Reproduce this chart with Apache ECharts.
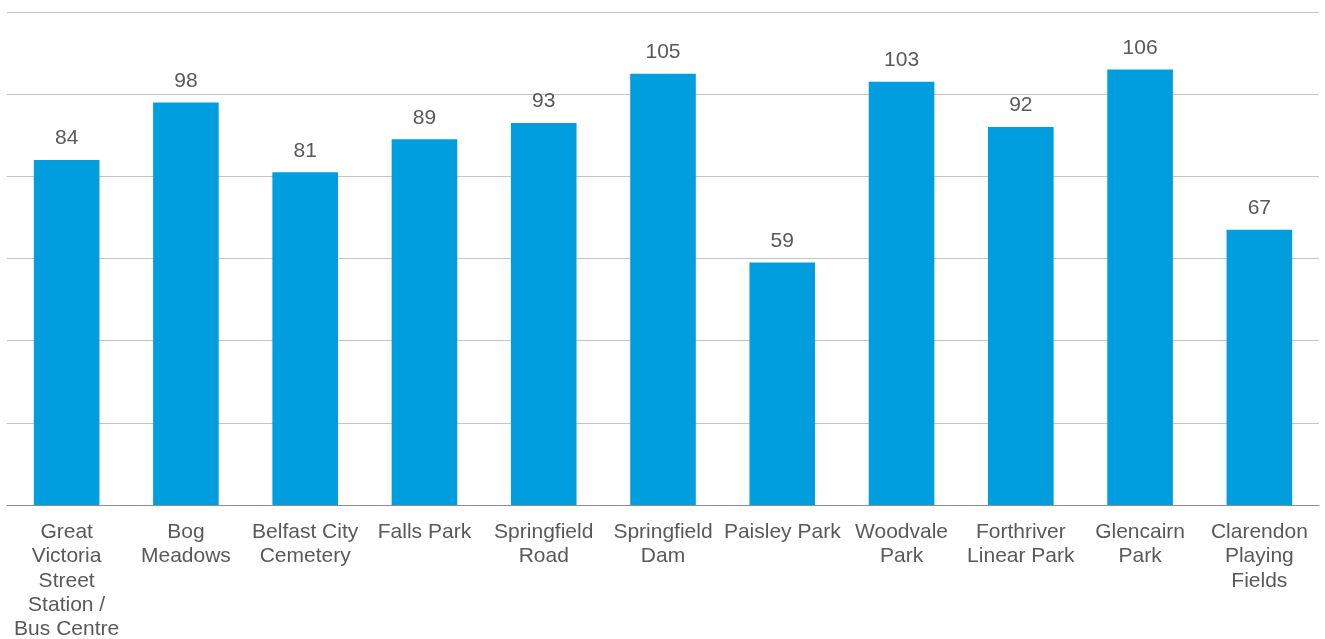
<!DOCTYPE html>
<html>
<head>
<meta charset="utf-8">
<script src="https://cdn.jsdelivr.net/npm/echarts@6/dist/echarts.min.js"></script>
<style>
  html, body { margin: 0; padding: 0; background: #fff; }
  #chart { width: 1325px; height: 639px; }
</style>
</head>
<body>
<div id="chart"></div>
<script>
// Park locations along the x axis
const categories = [
  'Great\nVictoria\nStreet\nStation /\nBus Centre',
  'Bog\nMeadows',
  'Belfast City\nCemetery',
  'Falls Park',
  'Springfield\nRoad',
  'Springfield\nDam',
  'Paisley Park',
  'Woodvale\nPark',
  'Forthriver\nLinear Park',
  'Glencairn\nPark',
  'Clarendon\nPlaying\nFields'
];

// Value for each location
const values = [84, 98, 81, 89, 93, 105, 59, 103, 92, 106, 67];

// Value axis range (gridlines every 20, labels hidden)
const yMin = 0;
const yMax = 120;
const yStep = 20;

const chart = echarts.init(document.getElementById('chart'), null, { renderer: 'canvas' });

chart.setOption({
  animation: false,
  backgroundColor: '#ffffff',
  textStyle: { fontFamily: '"Liberation Sans", Arial, sans-serif' },
  grid: {
    left: 7, right: 6, top: 12, bottom: 134,
    containLabel: false,
    outerBoundsMode: 'none'
  },
  xAxis: {
    type: 'category',
    data: categories,
    axisLine: { show: true, lineStyle: { color: '#8c8c8c', width: 1 } },
    axisTick: { show: false },
    axisLabel: {
      interval: 0,
      margin: 15,
      color: '#595959',
      fontSize: 21,
      lineHeight: 24.3,
      fontFamily: '"Liberation Sans", Arial, sans-serif'
    }
  },
  yAxis: {
    type: 'value',
    min: yMin,
    max: yMax,
    interval: yStep,
    axisLine: { show: false },
    axisTick: { show: false },
    axisLabel: { show: false },
    splitLine: { show: true, lineStyle: { color: '#c4c4c4', width: 1 } }
  },
  series: [{
    type: 'bar',
    data: values,
    barWidth: '55%',
    itemStyle: { color: '#009ddf' },
    label: {
      show: true,
      position: 'top',
      distance: 11,
      color: '#595959',
      fontSize: 21,
      fontFamily: '"Liberation Sans", Arial, sans-serif'
    }
  }]
});
</script>
</body>
</html>
